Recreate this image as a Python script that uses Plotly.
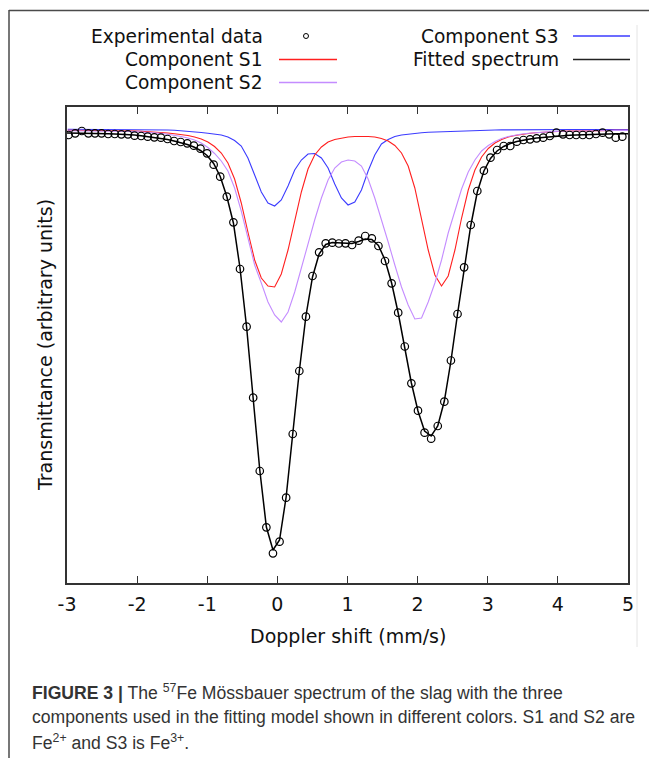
import plotly.graph_objects as go

# ---------------- data ----------------
# Doppler velocity of each measured channel (mm/s)
CHANNEL_VELOCITY = [
    -2.977, -2.883, -2.789, -2.695, -2.601, -2.507, -2.413, -2.319, -2.225, -2.131,
    -2.037, -1.943, -1.849, -1.755, -1.661, -1.567, -1.473, -1.379, -1.285, -1.191,
    -1.097, -1.003, -0.909, -0.815, -0.721, -0.627, -0.533, -0.439, -0.345, -0.251,
    -0.157, -0.063, 0.031, 0.125, 0.219, 0.313, 0.407, 0.501, 0.595, 0.689,
    0.783, 0.877, 0.971, 1.065, 1.159, 1.253, 1.347, 1.441, 1.535, 1.629,
    1.723, 1.817, 1.911, 2.005, 2.099, 2.193, 2.287, 2.381, 2.475, 2.569,
    2.663, 2.757, 2.851, 2.945, 3.039, 3.133, 3.227, 3.321, 3.415, 3.509,
    3.603, 3.697, 3.791, 3.885, 3.979, 4.073, 4.167, 4.261, 4.355, 4.449,
    4.543, 4.637, 4.731, 4.825, 4.919,
]

# Experimental transmittance (arbitrary units)
EXPERIMENTAL = [
    448.0, 449.7, 452.0, 449.7, 449.7, 449.7, 449.0, 449.0, 448.7, 448.7,
    447.3, 447.0, 446.3, 445.7, 445.3, 444.0, 442.0, 441.0, 439.7, 437.3,
    434.3, 429.7, 418.3, 406.3, 386.3, 360.7, 314.0, 256.3, 185.3, 112.0,
    55.7, 29.7, 41.3, 85.3, 149.0, 212.0, 266.3, 307.0, 330.7, 339.7,
    340.3, 339.5, 339.7, 338.0, 342.3, 347.0, 344.7, 337.0, 322.0, 299.7,
    270.3, 236.5, 199.7, 172.3, 150.3, 144.3, 157.0, 181.3, 222.5, 269.0,
    315.7, 358.0, 392.0, 412.3, 425.3, 433.0, 437.0, 437.0, 441.3, 443.0,
    443.7, 444.7, 445.3, 447.0, 450.3, 448.7, 448.0, 448.0, 448.0, 448.0,
    449.0, 450.3, 448.7, 445.3, 446.3,
]

# Fitted spectrum: value at the left edge, at every channel, at the right edge
FIT_LEFT_EDGE = 450.0
FIT_RIGHT_EDGE = 449.3
FITTED = [
    450.0, 449.9, 449.8, 449.7, 449.6, 449.5, 449.3, 449.0, 448.8, 448.5,
    448.0, 447.3, 446.5, 445.7, 444.7, 443.5, 442.0, 440.5, 438.5, 436.0,
    432.5, 427.5, 419.5, 406.5, 386.5, 360.0, 315.0, 256.0, 185.0, 113.0,
    56.0, 33.0, 43.0, 86.0, 149.0, 212.0, 267.0, 306.0, 329.0, 338.5,
    340.5, 340.0, 339.5, 339.5, 341.5, 344.0, 343.5, 337.5, 323.0, 300.0,
    270.0, 236.0, 200.0, 172.0, 152.0, 147.0, 157.0, 182.0, 222.0, 269.0,
    315.0, 357.0, 391.0, 412.0, 424.5, 432.0, 436.5, 439.5, 441.5, 443.0,
    444.0, 445.0, 445.7, 446.4, 447.0, 447.4, 447.8, 448.1, 448.4, 448.6,
    448.8, 449.0, 449.1, 449.2, 449.3,
]

# Velocity grid on which the three components are drawn (mm/s)
COMPONENT_VELOCITY = [
    -2.990, -2.895, -2.800, -2.704, -2.609, -2.514, -2.419, -2.324, -2.228, -2.133,
    -2.038, -1.943, -1.848, -1.752, -1.657, -1.562, -1.467, -1.372, -1.276, -1.181,
    -1.086, -0.991, -0.896, -0.800, -0.705, -0.610, -0.515, -0.420, -0.324, -0.229,
    -0.134, -0.039, 0.056, 0.152, 0.247, 0.342, 0.437, 0.532, 0.628, 0.723,
    0.818, 0.913, 1.008, 1.104, 1.199, 1.294, 1.389, 1.484, 1.580, 1.675,
    1.770, 1.865, 1.960, 2.056, 2.151, 2.246, 2.341, 2.436, 2.532, 2.627,
    2.722, 2.817, 2.912, 3.008, 3.103, 3.198, 3.293, 3.388, 3.484, 3.579,
    3.674, 3.769, 3.864, 3.960, 4.055, 4.150, 4.245, 4.340, 4.436, 4.531,
    4.626, 4.721, 4.816, 4.912, 5.000,
]

COMPONENT_S1 = [
    452.7, 452.7, 452.6, 452.6, 452.5, 452.5, 452.4, 452.3, 452.2, 452.1,
    452.0, 451.7, 451.4, 451.0, 450.5, 450.0, 449.3, 448.5, 447.5, 446.0,
    444.0, 441.0, 436.5, 430.0, 420.0, 404.0, 380.0, 351.0, 323.0, 305.0,
    297.0, 296.0, 309.0, 333.0, 361.0, 391.0, 414.0, 428.0, 436.0, 441.0,
    443.5, 445.0, 446.0, 446.5, 446.7, 446.5, 446.0, 444.5, 442.0, 437.5,
    430.0, 417.0, 395.0, 365.0, 333.0, 308.0, 297.0, 307.0, 333.0, 365.0,
    393.0, 413.0, 426.0, 434.5, 440.0, 443.5, 446.0, 447.5, 448.7, 449.5,
    450.2, 450.7, 451.1, 451.4, 451.7, 451.9, 452.1, 452.2, 452.3, 452.4,
    452.5, 452.5, 452.6, 452.6, 452.6,
]

COMPONENT_S2 = [
    452.2, 452.2, 452.1, 452.1, 452.0, 452.0, 451.9, 451.8, 451.7, 451.6,
    451.5, 451.0, 450.7, 450.2, 449.6, 448.8, 447.8, 446.5, 445.0, 443.0,
    440.0, 435.5, 429.5, 422.0, 412.0, 395.0, 372.0, 346.0, 318.0, 300.0,
    281.0, 268.0, 261.0, 271.0, 291.0, 315.0, 340.0, 363.0, 385.0, 403.0,
    415.0, 421.0, 423.0, 422.0, 417.0, 404.0, 385.0, 364.0, 341.0, 318.0,
    296.0, 278.0, 264.0, 265.0, 281.0, 300.0, 323.0, 350.0, 373.0, 394.0,
    411.0, 423.0, 432.0, 437.5, 441.5, 444.5, 446.5, 448.0, 449.0, 449.8,
    450.4, 450.9, 451.3, 451.6, 451.8, 452.0, 452.1, 452.2, 452.3, 452.4,
    452.5, 452.5, 452.6, 452.6, 452.6,
]

COMPONENT_S3 = [
    453.7, 453.7, 453.7, 453.7, 453.7, 453.7, 453.7, 453.7, 453.7, 453.7,
    453.7, 453.5, 453.5, 453.5, 453.5, 453.0, 452.7, 452.3, 451.7, 451.0,
    450.5, 449.8, 449.0, 448.0, 446.0, 442.5, 437.0, 425.0, 408.0, 391.0,
    380.0, 377.0, 383.0, 397.0, 413.0, 423.0, 429.0, 429.5, 425.0, 415.0,
    399.0, 385.0, 378.0, 381.0, 393.0, 412.0, 428.0, 439.0, 443.5, 446.5,
    448.0, 449.0, 449.8, 450.3, 450.7, 451.0, 451.3, 451.6, 451.8, 452.0,
    452.2, 452.4, 452.6, 452.8, 453.0, 453.1, 453.2, 453.3, 453.4, 453.5,
    453.5, 453.5, 453.5, 453.5, 453.5, 453.5, 453.5, 453.5, 453.5, 453.5,
    453.5, 453.5, 453.5, 453.5, 453.5,
]

X_RANGE = [-3, 5]
Y_RANGE = [0, 476]
TICK_VALUES = [-3, -2, -1, 0, 1, 2, 3, 4, 5]
TICK_LABELS = ["-3", "-2", "-1", "0", "1", "2", "3", "4", "5"]

LEGEND_ENTRIES = ["Experimental data", "Component S1", "Component S2",
                  "Component S3", "Fitted spectrum"]
X_TITLE = "Doppler shift (mm/s)"
Y_TITLE = "Transmittance (arbitrary units)"
CAPTION = [
    "<b>FIGURE 3 |</b> The <sup>57</sup>Fe Mössbauer spectrum of the slag with the three",
    "components used in the fitting model shown in different colors. S1 and S2 are",
    "Fe<sup>2+</sup> and S3 is Fe<sup>3+</sup>.",
]

# ---------------- styling / layout ----------------
W, H = 649, 758
L, R, T, B = 67, 628, 107, 583      # plot area in pixels
FONT = "DejaVu Sans"
RED = "#ff1f1f"
PURPLE = "#c48cff"
BLUE = "#3b3bff"
BLACK = "#000000"


def xp(px):
    return (px - L) / (R - L)


def yp(py):
    return (B - py) / (B - T)


fig = go.Figure()

fig.add_trace(go.Scatter(x=COMPONENT_VELOCITY, y=COMPONENT_S3, mode="lines",
                         line=dict(color=BLUE, width=1.1), name="Component S3"))
fig.add_trace(go.Scatter(x=COMPONENT_VELOCITY, y=COMPONENT_S1, mode="lines",
                         line=dict(color=RED, width=1.1), name="Component S1"))
fig.add_trace(go.Scatter(x=COMPONENT_VELOCITY, y=COMPONENT_S2, mode="lines",
                         line=dict(color=PURPLE, width=1.1), name="Component S2"))
fig.add_trace(go.Scatter(x=[X_RANGE[0]] + CHANNEL_VELOCITY + [X_RANGE[1]],
                         y=[FIT_LEFT_EDGE] + FITTED + [FIT_RIGHT_EDGE],
                         mode="lines", line=dict(color=BLACK, width=1.5),
                         name="Fitted spectrum"))
fig.add_trace(go.Scatter(x=CHANNEL_VELOCITY, y=EXPERIMENTAL, mode="markers",
                         marker=dict(symbol="circle-open", size=7.5,
                                     color=BLACK, line=dict(width=1.2, color=BLACK)),
                         name="Experimental data"))

shapes = []
annotations = []

# outer frame of the figure panel
shapes.append(dict(type="line", xref="paper", yref="paper",
                   x0=xp(9), x1=xp(649), y0=yp(10.5), y1=yp(10.5),
                   line=dict(color="#4a4a4a", width=1.5)))
shapes.append(dict(type="line", xref="paper", yref="paper",
                   x0=xp(9), x1=xp(9), y0=yp(10), y1=yp(758),
                   line=dict(color="#4a4a4a", width=1.5)))
shapes.append(dict(type="line", xref="paper", yref="paper",
                   x0=xp(637), x1=xp(637), y0=yp(25), y1=yp(647),
                   line=dict(color="#e4e4e4", width=1)))

# legend (two columns, right-aligned labels, sample at right)
ROWS = [36, 59.5, 82.5]
col1_text_x, col2_text_x = 265, 561
annotations.append(dict(text=LEGEND_ENTRIES[0], x=xp(col1_text_x), y=yp(ROWS[0])))
annotations.append(dict(text=LEGEND_ENTRIES[1], x=xp(col1_text_x), y=yp(ROWS[1])))
annotations.append(dict(text=LEGEND_ENTRIES[2], x=xp(col1_text_x), y=yp(ROWS[2])))
annotations.append(dict(text=LEGEND_ENTRIES[3], x=xp(col2_text_x), y=yp(ROWS[0])))
annotations.append(dict(text=LEGEND_ENTRIES[4], x=xp(col2_text_x), y=yp(ROWS[1])))
for a in annotations:
    a.update(xref="paper", yref="paper", xanchor="right", yanchor="middle",
             showarrow=False, font=dict(family=FONT, size=18.6, color="#111111"))

shapes.append(dict(type="circle", xref="paper", yref="paper",
                   x0=xp(303.5), x1=xp(308.5), y0=yp(ROWS[0] + 2.5), y1=yp(ROWS[0] - 2.5),
                   line=dict(color=BLACK, width=1)))
for (x0, x1, row, col) in [(279, 337, ROWS[1], RED), (279, 337, ROWS[2], PURPLE),
                           (573, 630, ROWS[0], BLUE), (573, 630, ROWS[1], "#222222")]:
    shapes.append(dict(type="line", xref="paper", yref="paper",
                       x0=xp(x0), x1=xp(x1), y0=yp(row), y1=yp(row),
                       line=dict(color=col, width=1.5 if col == "#222222" else 1.3)))

# axis titles
annotations.append(dict(text=X_TITLE, xref="paper", yref="paper",
                        x=xp(348), y=yp(636), xanchor="center", yanchor="middle",
                        showarrow=False, font=dict(family=FONT, size=19, color="#111111")))
annotations.append(dict(text=Y_TITLE, xref="paper", yref="paper", textangle=-90,
                        x=xp(45), y=yp(345), xanchor="center", yanchor="middle",
                        showarrow=False, font=dict(family=FONT, size=19, color="#111111")))

# caption
for text, row in zip(CAPTION, [692, 717, 742]):
    annotations.append(dict(text=text, xref="paper", yref="paper",
                            x=xp(30), y=yp(row), xanchor="left", yanchor="middle",
                            showarrow=False,
                            font=dict(family="Liberation Sans", size=17.6, color="#333333")))

fig.update_layout(
    width=W, height=H,
    margin=dict(l=L, r=W - R, t=T, b=H - B, pad=0),
    paper_bgcolor="white", plot_bgcolor="white",
    showlegend=False,
    shapes=shapes, annotations=annotations,
    xaxis=dict(range=X_RANGE, tickmode="array", tickvals=TICK_VALUES, ticktext=TICK_LABELS,
               ticks="inside", ticklen=7, tickwidth=1, tickcolor="#333333",
               showline=True, linecolor="#333333", linewidth=1.5, mirror="ticks",
               showgrid=False, zeroline=False, ticklabelstandoff=3,
               tickfont=dict(family=FONT, size=19, color="#111111")),
    yaxis=dict(range=Y_RANGE, showline=True, linecolor="#333333", linewidth=1.5,
               mirror=True, ticks="", showticklabels=False,
               showgrid=False, zeroline=False),
)

fig.write_html("out.html")
